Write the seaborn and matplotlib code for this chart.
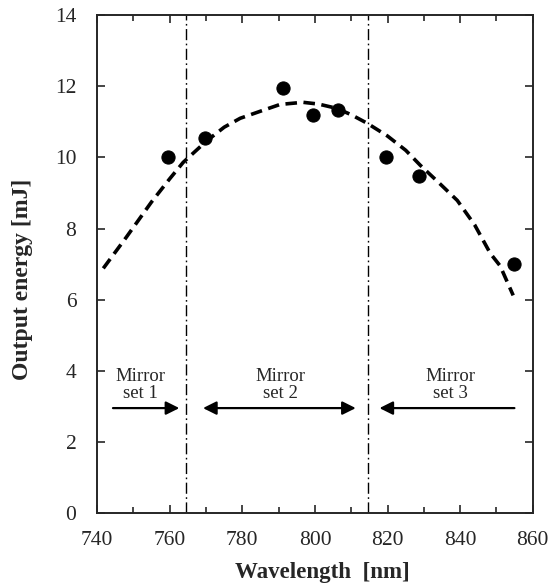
import numpy as np
import pandas as pd
import matplotlib
matplotlib.use("Agg")
import matplotlib.pyplot as plt
import seaborn as sns

# measured points
wl_points = [759.6, 769.7, 791.2, 799.5, 806.4, 819.6, 828.7, 854.9]
energy_points = [10.0, 10.55, 11.95, 11.18, 11.33, 10.0, 9.47, 7.0]

# dashed fit curve
wl_curve = [741.7, 748, 755, 760, 763.7, 770, 775, 779.4, 785, 790.4, 796.7,
            801, 806, 810, 814.4, 820, 825, 829, 834, 839.2, 844, 848.3, 851, 854.6]
energy_curve = [6.88, 7.75, 8.75, 9.4, 9.86, 10.45, 10.85, 11.1, 11.3, 11.49, 11.55,
                11.5, 11.38, 11.2, 10.96, 10.6, 10.2, 9.78, 9.3, 8.79, 8.1, 7.3, 6.95, 6.12]

mirror_edges = [764.5, 814.5]
labels = ["Mirror\nset 1", "Mirror\nset 2", "Mirror\nset 3"]
label_x = [751.8, 790.5, 837.2]

sns.set_style("ticks")
plt.rcParams["font.family"] = ["Liberation Serif", "DejaVu Serif"]

fig = plt.figure(figsize=(5.55, 5.84), dpi=100)
ax = fig.add_axes([0.175, 0.1216, 0.785, 0.8524])

pts = pd.DataFrame({"wl": wl_points, "energy": energy_points})
curve = pd.DataFrame({"wl": wl_curve, "energy": energy_curve})

sns.lineplot(data=curve, x="wl", y="energy", ax=ax, color="black",
             linestyle=(0, (3.2, 1.8)), linewidth=2.6, sort=False)
sns.scatterplot(data=pts, x="wl", y="energy", ax=ax, color="black",
                s=90, edgecolor="black", zorder=3)

for xe in mirror_edges:
    ax.axvline(xe, color="black", linestyle=(0, (8, 2.5, 1.2, 2.5)), linewidth=1.0)

arrow_kw = dict(arrowstyle="-|>", color="black", lw=1.6, mutation_scale=20)
ax.annotate("", xy=(763.4, 2.95), xytext=(743.6, 2.95), arrowprops=arrow_kw)
ax.annotate("", xy=(768.4, 2.95), xytext=(812, 2.95),
            arrowprops=dict(arrowstyle="<|-|>", color="black", lw=1.6, mutation_scale=20))
ax.annotate("", xy=(817, 2.95), xytext=(855.7, 2.95), arrowprops=arrow_kw)

for lx, txt in zip(label_x, labels):
    ax.text(lx, 3.6, txt, ha="center", va="center", fontsize=13.5, linespacing=1.0)

ax.set_xlim(740, 860)
ax.set_ylim(0, 14)
ax.set_xticks(np.arange(740, 861, 20))
ax.set_xticks(np.arange(740, 861, 10), minor=True)
ax.set_yticks(np.arange(0, 15, 2))
ax.tick_params(which="both", direction="in", top=True, right=True,
               labelsize=15.5, width=1.2)
ax.tick_params(axis="x", which="major", pad=13)
ax.tick_params(axis="y", which="major", pad=15)
ax.tick_params(which="major", length=6)
ax.tick_params(which="minor", length=4)
for s in ax.spines.values():
    s.set_linewidth(1.4)

ax.set_xlabel("Wavelength  [nm]", fontsize=16.5, fontweight="bold")
ax.set_ylabel("Output energy [mJ]", fontsize=17, fontweight="bold")
ax.xaxis.set_label_coords(0.518, -0.098)
ax.yaxis.set_label_coords(-0.147, 0.47)

fig.savefig("out.png", dpi=100)
